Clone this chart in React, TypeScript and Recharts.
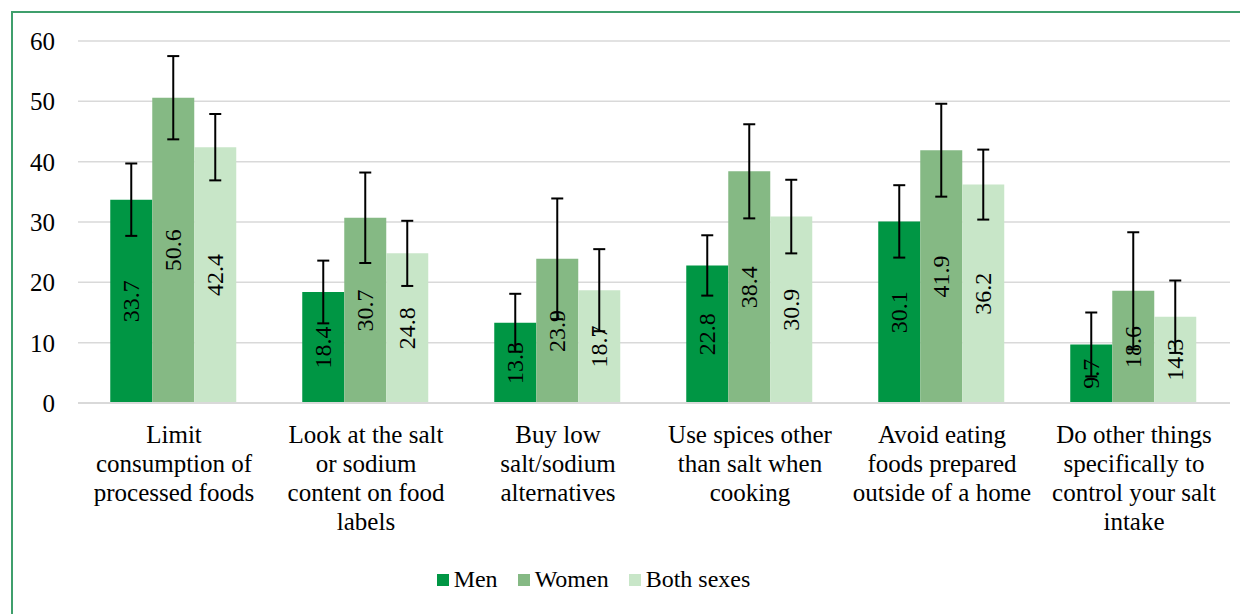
import { BarChart, Bar, XAxis, YAxis, CartesianGrid, ErrorBar, LabelList, Legend } from "recharts";

const categories = [
  "Limit\nconsumption of\nprocessed foods",
  "Look at the salt\nor sodium\ncontent on food\nlabels",
  "Buy low\nsalt/sodium\nalternatives",
  "Use spices other\nthan salt when\ncooking",
  "Avoid eating\nfoods prepared\noutside of a home",
  "Do other things\nspecifically to\ncontrol your salt\nintake",
];

const seriesNames = ["Men", "Women", "Both sexes"];

const men = [33.7, 18.4, 13.3, 22.8, 30.1, 9.7];
const women = [50.6, 30.7, 23.9, 38.4, 41.9, 18.6];
const both = [42.4, 24.8, 18.7, 30.9, 36.2, 14.3];

const menErr = [6.0, 5.2, 4.8, 5.0, 6.0, 5.3];
const womenErr = [6.9, 7.5, 10.0, 7.8, 7.7, 9.7];
const bothErr = [5.5, 5.4, 6.8, 6.1, 5.8, 6.0];

const yTicks = [0, 10, 20, 30, 40, 50, 60];

const data = categories.map((name, i) => ({
  name,
  men: men[i],
  women: women[i],
  both: both[i],
  menErr: menErr[i],
  womenErr: womenErr[i],
  bothErr: bothErr[i],
}));

const FONT = "Liberation Serif, Tinos, DejaVu Serif, serif";

const CategoryTick = (props: any) => {
  const { x, y, payload } = props;
  const lines = String(payload.value).split("\n");
  return (
    <text x={x} y={y + 32} textAnchor="middle" fill="#000" style={{ fontFamily: FONT, fontSize: 25 }}>
      {lines.map((l, i) => (
        <tspan key={i} x={x} dy={i === 0 ? 0 : 29}>
          {l}
        </tspan>
      ))}
    </text>
  );
};

const RotatedLabel = (props: any) => {
  const { x, y, width, height, value } = props;
  const cx = x + width / 2;
  const cy = y + height / 2;
  return (
    <text
      x={cx}
      y={cy}
      transform={`rotate(-90 ${cx} ${cy})`}
      textAnchor="middle"
      dominantBaseline="central"
      fill="#000"
      style={{ fontFamily: FONT, fontSize: 24 }}
    >
      {value}
    </text>
  );
};

const LegendContent = (props: any) => {
  const items = [...(props.payload || [])].sort(
    (a: any, b: any) => seriesNames.indexOf(a.value) - seriesNames.indexOf(b.value)
  );
  return (
    <div style={{ display: "flex", justifyContent: "center", paddingRight: 36, fontFamily: FONT, fontSize: 24 }}>
      {items.map((p: any) => (
        <div key={p.value} style={{ display: "flex", alignItems: "center", marginRight: 20 }}>
          <span style={{ width: 12, height: 12, background: p.color, display: "inline-block", marginRight: 5 }} />
          <span style={{ color: "#000" }}>{p.value}</span>
        </div>
      ))}
    </div>
  );
};

export default function App() {
  return (
    <div
      style={{
        marginLeft: 3,
        marginTop: 3,
        width: 1232,
        height: 610,
        border: "2px solid #3f9f6c",
        background: "#fff",
        fontFamily: FONT,
      }}
    >
      <BarChart
        width={1232}
        height={600}
        data={data}
        margin={{ top: 28, right: 15, left: 0, bottom: 20 }}
        barCategoryGap="16.8%"
        barGap={0}
      >
        <CartesianGrid vertical={false} stroke="#d9d9d9" strokeWidth={1.5} />
        <XAxis
          dataKey="name"
          interval={0}
          axisLine={{ stroke: "#d9d9d9", strokeWidth: 2 }}
          tickLine={false}
          height={163}
          tick={<CategoryTick />}
        />
        <YAxis
          width={65}
          domain={[0, 60]}
          ticks={yTicks}
          axisLine={false}
          tickLine={false}
          tickMargin={17}
          tick={{ fill: "#000", fontFamily: FONT, fontSize: 25 }}
        />
        <Legend verticalAlign="bottom" content={<LegendContent />} />
        <Bar dataKey="men" name={seriesNames[0]} fill="#009644" isAnimationActive={false}>
          <LabelList dataKey="men" content={<RotatedLabel />} />
          <ErrorBar dataKey="menErr" width={6} stroke="#000" strokeWidth={2} />
        </Bar>
        <Bar dataKey="women" name={seriesNames[1]} fill="#85b984" isAnimationActive={false}>
          <LabelList dataKey="women" content={<RotatedLabel />} />
          <ErrorBar dataKey="womenErr" width={6} stroke="#000" strokeWidth={2} />
        </Bar>
        <Bar dataKey="both" name={seriesNames[2]} fill="#c8e6c8" isAnimationActive={false}>
          <LabelList dataKey="both" content={<RotatedLabel />} />
          <ErrorBar dataKey="bothErr" width={6} stroke="#000" strokeWidth={2} />
        </Bar>
      </BarChart>
    </div>
  );
}
